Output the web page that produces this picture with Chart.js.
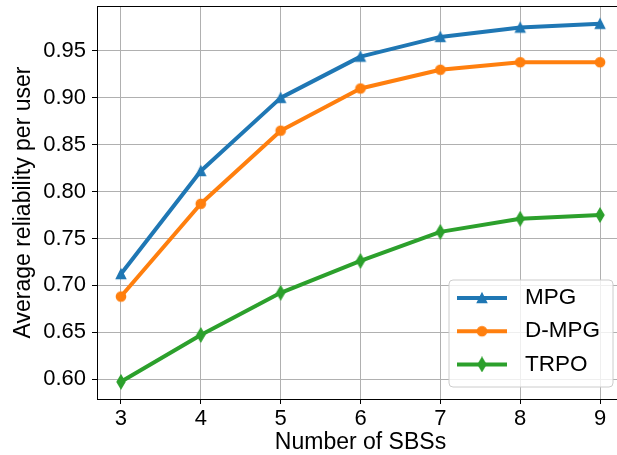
<!DOCTYPE html>
<html>
<head>
<meta charset="utf-8">
<script src="https://cdn.jsdelivr.net/npm/chart.js@4.4.0/dist/chart.umd.min.js"></script>
<style>
  html, body { margin: 0; padding: 0; background: #ffffff; overflow: hidden; }
  #wrap { width: 640px; height: 455px; }
</style>
</head>
<body>
<div id="wrap"><canvas id="ReliabilityChart" width="640" height="455"></canvas></div>
<script>
var NumberOfSBSs = [3, 4, 5, 6, 7, 8, 9]
var MPG = [0.712, 0.822, 0.900, 0.944, 0.965, 0.975, 0.979]
var D_MPG = [0.688, 0.787, 0.865, 0.910, 0.930, 0.938, 0.938]
var TRPO = [0.597, 0.647, 0.692, 0.726, 0.757, 0.771, 0.775]
var YTicks = [0.60, 0.65, 0.70, 0.75, 0.80, 0.85, 0.90, 0.95]
var SeriesNames = ['MPG', 'D-MPG', 'TRPO']

var ColorMPG = '#1f77b4', ColorDMPG = '#ff7f0e', ColorTRPO = '#2ca02c'
var FONT = "'Liberation Sans', Arial, sans-serif"

Chart.defaults.color = '#000000'
Chart.defaults.font.family = FONT

// markers like matplotlib's '^', 'o', 'd'
function MakeMarker(shape, color) {
    var c = document.createElement('canvas')
    c.width = 16
    c.height = 16
    var ctx = c.getContext('2d')
    ctx.fillStyle = color
    ctx.strokeStyle = color
    ctx.lineWidth = 1.3
    ctx.beginPath()
    var m = 4.7
    if (shape == 'triangle') {
        ctx.moveTo(8, 8 - m)
        ctx.lineTo(8 + m, 8 + m)
        ctx.lineTo(8 - m, 8 + m)
    } else if (shape == 'circle') {
        ctx.arc(8, 8, m, 0, Math.PI * 2)
    } else {
        var h = m * 1.414, w = h * 0.6
        ctx.moveTo(8, 8 - h)
        ctx.lineTo(8 + w, 8)
        ctx.lineTo(8, 8 + h)
        ctx.lineTo(8 - w, 8)
    }
    ctx.closePath()
    ctx.fill()
    ctx.stroke()
    return c
}

function ToPoints(values) {
    return NumberOfSBSs.map(function (x, i) { return { x: x, y: values[i] } })
}

function Series(name, values, color, shape) {
    return {
        label: name,
        data: ToPoints(values),
        borderColor: color,
        backgroundColor: color,
        borderWidth: 4,
        borderJoinStyle: 'round',
        tension: 0,
        fill: false,
        pointStyle: MakeMarker(shape, color),
        pointRadius: 5,
        pointHoverRadius: 5
    }
}

// top spine + legend box inside the axes (lower right)
var MplFrame = {
    id: 'MplFrame',
    afterDraw: function (chart) {
        var ctx = chart.ctx, area = chart.chartArea
        ctx.save()
        ctx.strokeStyle = '#000000'
        ctx.lineWidth = 1
        ctx.beginPath()
        ctx.moveTo(area.left, Math.round(area.top) + 0.5)
        ctx.lineTo(area.right, Math.round(area.top) + 0.5)
        ctx.stroke()

        var w = 164, h = 107, r = 4
        var x0 = area.right - 11 - w, y0 = area.bottom - 12 - h
        ctx.beginPath()
        ctx.moveTo(x0 + r, y0)
        ctx.arcTo(x0 + w, y0, x0 + w, y0 + h, r)
        ctx.arcTo(x0 + w, y0 + h, x0, y0 + h, r)
        ctx.arcTo(x0, y0 + h, x0, y0, r)
        ctx.arcTo(x0, y0, x0 + w, y0, r)
        ctx.closePath()
        ctx.fillStyle = 'rgba(255,255,255,0.8)'
        ctx.fill()
        ctx.strokeStyle = '#cccccc'
        ctx.lineWidth = 1
        ctx.stroke()

        chart.data.datasets.forEach(function (ds, i) {
            var y = y0 + 18 + i * 33.2
            ctx.strokeStyle = ds.borderColor
            ctx.lineWidth = 4
            ctx.beginPath()
            ctx.moveTo(x0 + 8, y)
            ctx.lineTo(x0 + 58, y)
            ctx.stroke()
            ctx.drawImage(ds.pointStyle, x0 + 33 - 8, y - 8)
            ctx.fillStyle = '#000000'
            ctx.font = '22.5px ' + FONT
            ctx.textBaseline = 'middle'
            ctx.textAlign = 'left'
            ctx.fillText(ds.label, x0 + 76, y)
        })
        ctx.restore()
    }
}

var ReliabilityChart = new Chart(document.getElementById('ReliabilityChart').getContext('2d'), {
    type: 'line',
    data: {
        datasets: [
            Series(SeriesNames[0], MPG, ColorMPG, 'triangle'),
            Series(SeriesNames[1], D_MPG, ColorDMPG, 'circle'),
            Series(SeriesNames[2], TRPO, ColorTRPO, 'diamond')
        ]
    },
    plugins: [MplFrame],
    options: {
        responsive: false,
        animation: false,
        layout: { autoPadding: false, padding: { top: 6, right: 16, left: 0, bottom: 0 } },
        plugins: {
            legend: { display: false },
            tooltip: { enabled: false }
        },
        scales: {
            x: {
                type: 'linear',
                min: 2.7,
                max: 9.3,
                afterBuildTicks: function (s) { s.ticks = NumberOfSBSs.map(function (v) { return { value: v } }) },
                afterFit: function (s) {
                    s.height = 56
                    s.paddingLeft = 0
                    s.paddingRight = 0
                },
                grid: { color: '#b0b0b0', lineWidth: 1, tickColor: '#000000', tickLength: 5, tickWidth: 1 },
                border: { color: '#000000', width: 1 },
                ticks: {
                    font: { size: 22 },
                    padding: 2,
                    maxRotation: 0,
                    autoSkip: false,
                    callback: function (v) { return String(v) }
                },
                title: {
                    display: true,
                    text: 'Number of SBSs',
                    font: { size: 23, lineHeight: 1.05 },
                    padding: { top: 0, bottom: 0 }
                }
            },
            y: {
                min: 0.5787,
                max: 0.998,
                afterBuildTicks: function (s) { s.ticks = YTicks.map(function (v) { return { value: v } }) },
                afterFit: function (s) {
                    s.width = 97
                    s.paddingTop = 0
                    s.paddingBottom = 0
                },
                grid: { color: '#b0b0b0', lineWidth: 1, tickColor: '#000000', tickLength: 5, tickWidth: 1 },
                border: { color: '#000000', width: 1 },
                ticks: {
                    font: { size: 22 },
                    padding: 6,
                    callback: function (v) { return v.toFixed(2) }
                },
                title: {
                    display: true,
                    text: 'Average reliability per user',
                    font: { size: 23, lineHeight: 1.05 },
                    padding: { top: 12, bottom: 0 }
                }
            }
        }
    }
})
</script>
</body>
</html>
